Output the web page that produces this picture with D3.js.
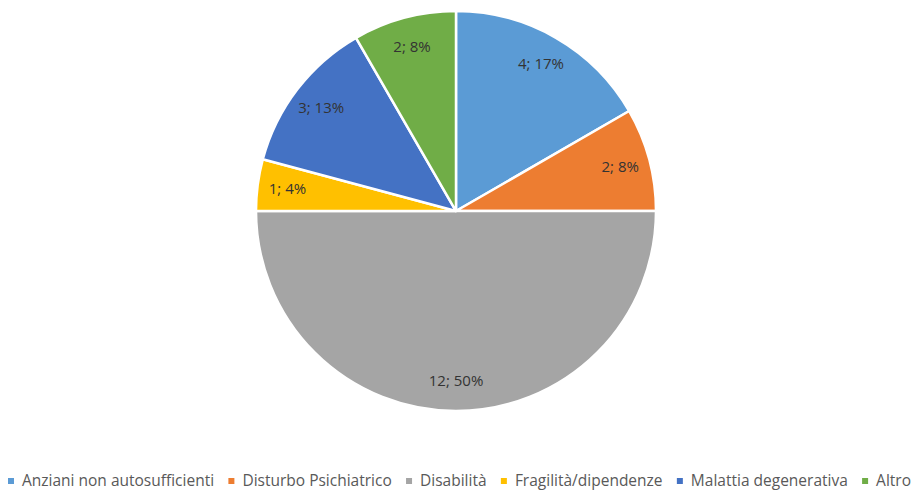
<!DOCTYPE html>
<html>
<head>
<meta charset="utf-8">
<script src="https://cdn.jsdelivr.net/npm/d3@7"></script>
<style>
  html, body { margin: 0; padding: 0; background: #fff; }
  svg { display: block; font-family: "Open Sans", "Noto Sans", sans-serif; }
</style>
</head>
<body>
<svg id="chart" width="912" height="490"></svg>
<script>
// slices, clockwise from 12 o'clock
const categories = ['Anziani non autosufficienti', 'Disturbo Psichiatrico', 'Disabilità',
  'Fragilità/dipendenze', 'Malattia degenerativa', 'Altro'];
const values = [4, 2, 12, 1, 3, 2];
const colors = ['#5B9BD5', '#ED7D31', '#A5A5A5', '#FFC000', '#4472C4', '#70AD47'];

const svg = d3.select('#chart');
const cx = 456, cy = 211, r = 200;
const total = d3.sum(values);

const pie = d3.pie().sort(null).value(d => d.value);
const arcs = pie(categories.map((c, i) => ({ name: c, value: values[i], color: colors[i] })));

const arc = d3.arc().innerRadius(0).outerRadius(r);
const labelArc = d3.arc().innerRadius(170).outerRadius(170);

const g = svg.append('g').attr('transform', `translate(${cx},${cy})`);

g.selectAll('path.slice')
  .data(arcs)
  .join('path')
  .attr('class', 'slice')
  .attr('d', arc)
  .attr('fill', d => d.data.color)
  .attr('stroke', '#fff')
  .attr('stroke-width', 2.5)
  .attr('stroke-linejoin', 'round');

g.selectAll('text.lbl')
  .data(arcs)
  .join('text')
  .attr('class', 'lbl')
  .attr('transform', d => `translate(${labelArc.centroid(d)})`)
  .attr('text-anchor', 'middle')
  .attr('dy', '0.35em')
  .attr('fill', '#333')
  .style('font-size', '15px')
  .text(d => `${d.data.value}; ${Math.round(d.data.value / total * 100)}%`);

// legend along the bottom, spread from x=8 to x=911
const legend = svg.append('g').attr('transform', 'translate(0,481)');
const items = legend.selectAll('g.item')
  .data(categories)
  .join('g')
  .attr('class', 'item');

items.append('rect')
  .attr('width', 6).attr('height', 6)
  .attr('y', -3)
  .attr('fill', (d, i) => colors[i]);

items.append('text')
  .attr('x', 14)
  .attr('dy', '0.35em')
  .attr('fill', '#595959')
  .style('font-size', '15.5px')
  .text(d => d);

const widths = [];
items.selectAll('text').each(function () { widths.push(14 + this.getComputedTextLength()); });
const left = 8, right = 911;
const gap = (right - left - d3.sum(widths)) / (categories.length - 1);
let x = left;
items.attr('transform', (d, i) => {
  const t = `translate(${x},0)`;
  x += widths[i] + gap;
  return t;
});
</script>
</body>
</html>
